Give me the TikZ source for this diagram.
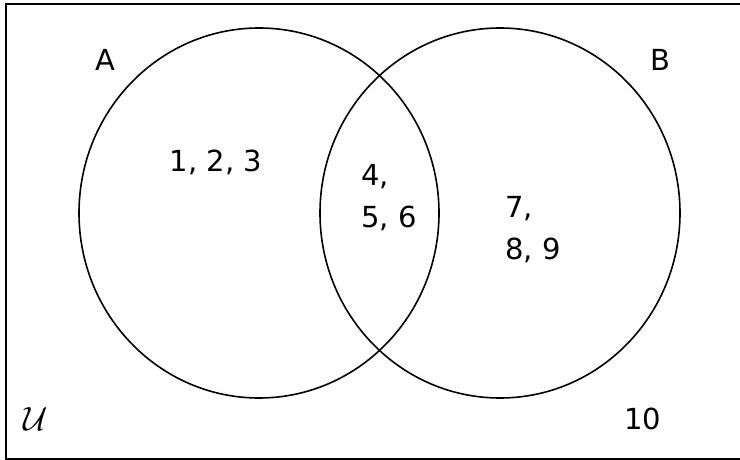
\documentclass[tikz,border=0pt]{standalone}
\usepackage{graphicx}
\usepackage{fontspec}
\setmainfont{DejaVu Sans}
\usepackage{tikz}
\usetikzlibrary{positioning, shapes.geometric}

\begin{document}
\begin{tikzpicture}[
    x=1pt, y=-1pt,
    setcirc/.style={ellipse, draw=black, line width=1.6pt, minimum width=360pt, minimum height=370pt, inner sep=0pt},
    setname/.style={font=\fontsize{29}{35}\selectfont, inner sep=0pt},
    elems/.style={font=\fontsize{29}{42}\selectfont, align=left, inner sep=0pt},
]
\useasboundingbox (0,0) rectangle (740,460);

% Universe frame
\draw[line width=1.8pt] (6,4) rectangle (745,459);

% Sets
\node[setcirc] (setA) at (259,213) {};
\node[setcirc] (setB) at (500,213) {};

% Labels
\node[setname] (labA) at (105,60) {A};
\node[setname] (labB) at (660,60) {B};
\node[setname] (labU) at (36,419) {\scalebox{1.35}{$\mathcal{U}$}};

% Elements
\node[elems] (onlyA) at (216,162) {1, 2, 3};
\node[elems] (both) at (389,198) {4,\\5, 6};
\node[elems] (onlyB) at (533,230) {7,\\8, 9};
\node[elems] (outside) at (643,419) {10};

\end{tikzpicture}
\end{document}
